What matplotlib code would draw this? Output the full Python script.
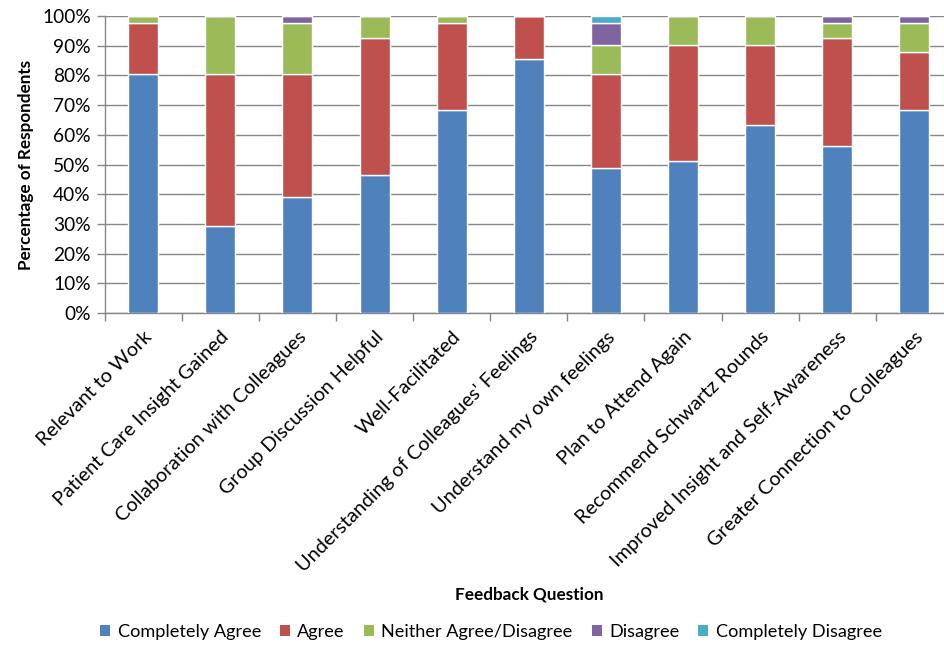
import matplotlib
matplotlib.use("Agg")
import matplotlib.pyplot as plt
import numpy as np
from matplotlib.ticker import FixedLocator, PercentFormatter

plt.rcParams['font.family'] = ['Lato', 'DejaVu Sans']

categories = ["Relevant to Work", "Patient Care Insight Gained", "Collaboration with Colleagues",
              "Group Discussion Helpful", "Well-Facilitated", "Understanding of Colleagues' Feelings",
              "Understand my own feelings", "Plan to Attend Again", "Recommend Schwartz Rounds",
              "Improved Insight and Self-Awareness", "Greater Connection to Colleagues"]
completely_agree = [80.5, 29.3, 39.0, 46.3, 68.3, 85.4, 48.8, 51.2, 63.4, 56.1, 68.3]
agree = [17.1, 51.2, 41.5, 46.3, 29.3, 14.6, 31.7, 39.0, 26.8, 36.6, 19.5]
neither = [2.4, 19.5, 17.1, 7.3, 2.4, 0.0, 9.8, 9.8, 9.8, 4.9, 9.8]
disagree = [0.0, 0.0, 2.4, 0.0, 0.0, 0.0, 7.3, 0.0, 0.0, 2.4, 2.4]
completely_disagree = [0.0, 0.0, 0.0, 0.0, 0.0, 0.0, 2.4, 0.0, 0.0, 0.0, 0.0]
series_names = ["Completely Agree", "Agree", "Neither Agree/Disagree", "Disagree", "Completely Disagree"]
yticks = [0, 10, 20, 30, 40, 50, 60, 70, 80, 90, 100]

colors = ["#4F81BD", "#C0504D", "#9BBB59", "#8064A2", "#4BACC6"]
series = [completely_agree, agree, neither, disagree, completely_disagree]

W, H = 945, 648
fig = plt.figure(figsize=(W / 100, H / 100), dpi=100)
left, right, top, bottom = 104.6, 953.0, 16.0, 313.0
ax = fig.add_axes([left / W, 1 - bottom / H, (right - left) / W, (bottom - top) / H])

x = np.arange(len(categories))
base = np.zeros(len(categories))
for vals, c, name in zip(series, colors, series_names):
    v = np.array(vals)
    ax.bar(x, v, bottom=base, width=0.39, color=c, edgecolor="white", linewidth=1.0,
           label=name, zorder=3)
    base += v

ax.set_xlim(-0.5, len(categories) - 0.5)
ax.set_ylim(0, 100)
ax.set_yticks(yticks)
ax.yaxis.set_major_formatter(PercentFormatter(decimals=0))
ax.grid(axis="y", color="#868686", linewidth=1.0, zorder=0)
ax.set_axisbelow(True)

for s in ["top", "right"]:
    ax.spines[s].set_visible(False)
for s in ["left", "bottom"]:
    ax.spines[s].set_color("#868686")
    ax.spines[s].set_linewidth(1.0)

ax.set_xticks(x)
ax.set_xticklabels(categories, rotation=45, ha="right", va="top", rotation_mode="anchor", fontsize=14.3)
ax.tick_params(axis="x", which="major", length=0, pad=11)
ax.xaxis.set_minor_locator(FixedLocator(np.arange(-0.5, len(categories), 1.0)))
ax.tick_params(axis="x", which="minor", length=6, color="#868686", width=1)
ax.tick_params(axis="y", length=6, color="#868686", width=1, labelsize=13.8, pad=4)

ax.set_ylabel("Percentage of Respondents", fontsize=12.3, fontweight="bold", labelpad=6)
fig.text(529 / W, 1 - 594 / H, "Feedback Question", ha="center", va="center",
         fontsize=12.3, fontweight="bold")

handles, labels = ax.get_legend_handles_labels()
leg = fig.legend(handles, labels, loc="center", bbox_to_anchor=(491 / W, 1 - 632 / H), ncol=5,
                 frameon=False, fontsize=13.1, handlelength=0.55, handleheight=0.55,
                 handletextpad=0.4, columnspacing=1.05)
for h in leg.legend_handles:
    h.set_edgecolor("none")

fig.savefig("out.png", dpi=100)
